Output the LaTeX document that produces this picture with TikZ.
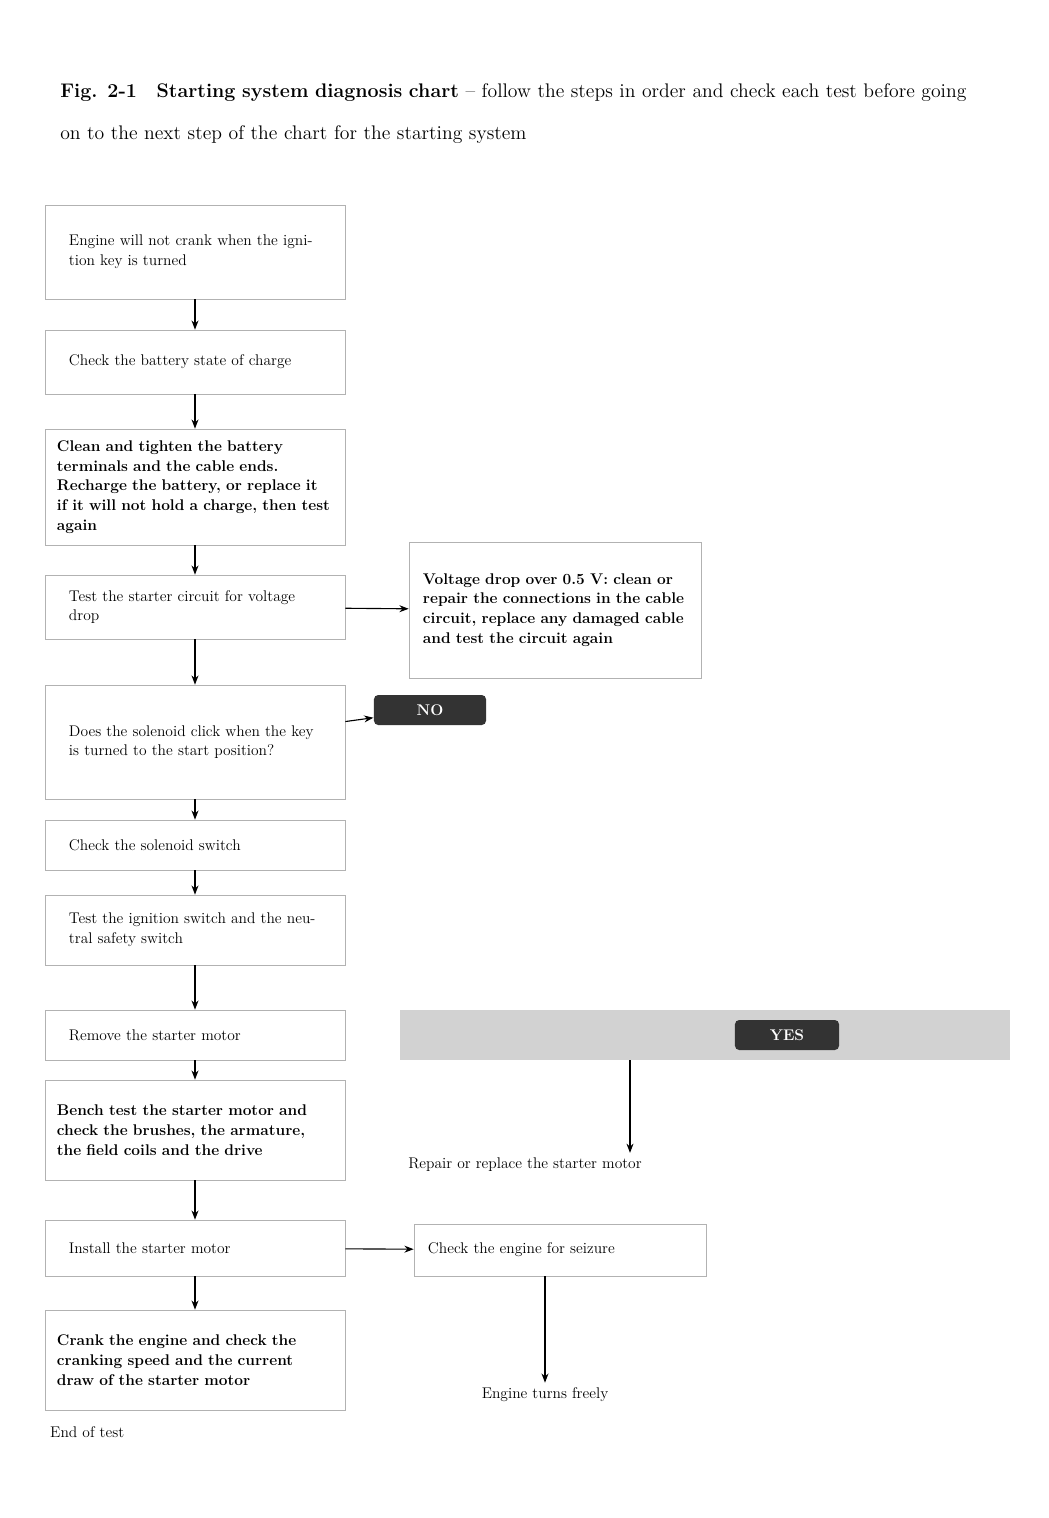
\documentclass[tikz,border=0pt]{standalone}
\usepackage{tikz}
\usetikzlibrary{arrows.meta}
\begin{document}
\begin{tikzpicture}[x=0.025cm,y=-0.025cm,thick,>=Stealth,
    step node/.style={draw=gray!60,thin,rectangle,minimum width=7.5cm,text width=6.3cm,align=left,font=\fontsize{11}{14}\selectfont},
    bold node/.style={step node,text width=6.9cm,font=\bfseries\fontsize{11}{14}\selectfont},
    side node/.style={step node,minimum width=7.3cm,text width=6.6cm},
    tag node/.style={fill=black!80,text=white,rounded corners=3pt,font=\bfseries\fontsize{11}{14}\selectfont,minimum width=2.8cm,minimum height=0.75cm},
    note node/.style={font=\fontsize{11}{14}\selectfont,align=left}]
                \useasboundingbox (0,0) rectangle (1049,1518);
                \node[note node,anchor=north west,text width=22.8cm,font=\fontsize{14}{30}\selectfont] at (55,78) (title) {\textbf{Fig. 2-1}\quad \textbf{Starting system diagnosis chart} -- follow the steps in order and check each test before going on to the next step of the chart for the starting system};

                \node[step node,minimum height=2.35cm] at (195,252) (b1) {Engine will not crank when the ignition key is turned};
                \node[step node,minimum height=1.6cm] at (195,362) (b2) {Check the battery state of charge};
                \node[bold node,minimum height=2.9cm] at (195,487) (b3) {Clean and tighten the battery terminals and the cable ends. Recharge the battery, or replace it if it will not hold a charge, then test again};
                \node[step node,minimum height=1.6cm] at (195,607) (b4) {Test the starter circuit for voltage drop};
                \node[side node,font=\bfseries\fontsize{11}{14}\selectfont,minimum height=3.4cm] at (555,610) (r1) {Voltage drop over 0.5 V: clean or repair the connections in the cable circuit, replace any damaged cable and test the circuit again};
                \node[step node,minimum height=2.85cm] at (195,742) (b5) {Does the solenoid click when the key is turned to the start position?};
                \node[tag node] at (430,710) (no1) {NO};
                \node[step node,minimum height=1.25cm] at (195,845) (b6) {Check the solenoid switch};
                \node[step node,minimum height=1.75cm] at (195,930) (b7) {Test the ignition switch and the neutral safety switch};
                \node[step node,minimum height=1.25cm] at (195,1035) (b8) {Remove the starter motor};
                \node[bold node,minimum height=2.5cm] at (195,1130) (b9) {Bench test the starter motor and check the brushes, the armature, the field coils and the drive};
                \node[fill=gray!35,minimum width=15.25cm,minimum height=1.25cm] at (705,1035) (bar) {};
                \node[tag node,minimum width=2.6cm] at (787,1035) (yes1) {YES};
                \node[note node] at (525,1165) (t1) {Repair or replace the starter motor};
                \node[step node,minimum height=1.4cm] at (195,1248) (b10) {Install the starter motor};
                \node[side node,minimum height=1.3cm] at (560,1250) (r2) {Check the engine for seizure};
                \node[note node] at (545,1395) (t2) {Engine turns freely};
                \node[bold node,minimum height=2.5cm] at (195,1360) (b11) {Crank the engine and check the cranking speed and the current draw of the starter motor};
                \node[note node,anchor=west] at (45,1432) (t3) {End of test};
                \coordinate (v) at (630,1060);

                \path[->] (b1) edge[] node [] {} (b2);
                \path[->] (b2) edge[] node [] {} (b3);
                \path[->] (b3) edge[] node [] {} (b4);
                \path[->] (b4) edge[] node [] {} (r1);
                \path[->] (b4) edge[] node [] {} (b5);
                \path[->] (b5) edge[] node [] {} (no1);
                \path[->] (b5) edge[] node [] {} (b6);
                \path[->] (b6) edge[] node [] {} (b7);
                \path[->] (b7) edge[] node [] {} (b8);
                \path[->] (b8) edge[] node [] {} (b9);
                \path[->] (v) edge[] node [] {} (v |- t1.north);
                \path[->] (b9) edge[] node [] {} (b10);
                \path[->] (b10) edge[] node [] {} (r2);
                \path[->] (b10) edge[] node [] {} (b11);
                \path[->] (r2.south -| t2) edge[] node [] {} (t2);
            \end{tikzpicture}
\end{document}
